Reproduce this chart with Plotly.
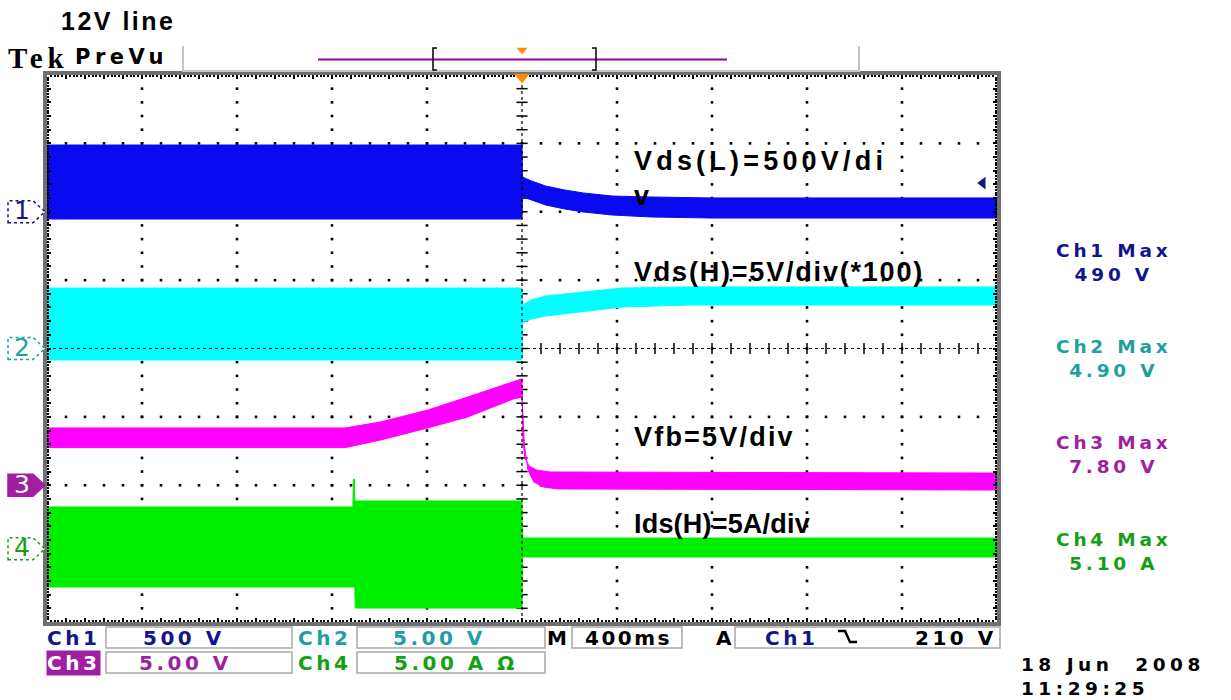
import plotly.graph_objects as go

# ---------------------------------------------------------------- settings
TIME_DIV_MS = 400          # horizontal scale
TRIG_TIME_MS = 0           # trigger position (screen centre)
TRIG_LEVEL_V = 210         # Ch1 falling-edge trigger level
N_XDIV, N_YDIV = 10, 8

CH_NAMES = ["Ch1", "Ch2", "Ch3", "Ch4"]
CH_SCALE = [500, 5, 5, 5]                 # units / division
CH_OFFSET_DIV = [2.0, 0.0, -2.0, -2.93]   # ground reference, divisions from centre
CH_SETTING_TXT = ["500 V", "5.00 V", "5.00 V", "5.00 A Ω"]
CH_MAX_TXT = ["490 V", "4.90 V", "7.80 V", "5.10 A"]
CH_NOTE = ["Vds(L)=500V/di<br>v", "Vds(H)=5V/div(*100)", "Vfb=5V/div", "Ids(H)=5A/div"]
CH_TRACE_COLOR = ["#0a0af0", "#00ffff", "#ff00ff", "#00ee00"]
CH_TEXT_COLOR = ["#14148c", "#1ea0a0", "#a01ea0", "#14a014"]

# ---------------------------------------------------------------- envelopes
# Ch1 Vds(L) [V]
CH1_UP_T = [-2000, 0, 2, 40, 100, 180, 260, 380, 540, 800, 2000]
CH1_UP = [488, 488, 254, 225, 188, 159, 137, 115, 108, 101, 101]
CH1_LO_T = [-2000, 0, 2, 40, 100, 180, 260, 380, 540, 800, 2000]
CH1_LO = [-53, -53, 108, 86, 49, 20, -2, -24, -38, -46, -46]

# Ch2 Vds(H) [V]
CH2_UP_T = [-2000, 0, 2, 40, 100, 250, 420, 700, 2000]
CH2_UP = [4.42, 4.42, 3.18, 3.55, 3.84, 4.13, 4.42, 4.50, 4.50]
CH2_LO_T = [-2000, 0, 2, 40, 100, 250, 420, 700, 2000]
CH2_LO = [-0.84, -0.84, 1.86, 2.16, 2.38, 2.67, 3.03, 3.18, 3.18]

# Ch3 Vfb [V]
CH3_UP_T = [-2000, -745, -595, -397, -229, -36, 0, 4, 12, 30, 60, 120, 2000]
CH3_UP = [4.19, 4.19, 4.63, 5.50, 6.45, 7.55, 7.78, 3.31, 1.99, 1.41, 1.12, 0.97, 0.89]
CH3_LO_T = [-2000, -745, -595, -397, -229, -36, 0, 10, 25, 50, 90, 150, 2000]
CH3_LO = [2.75, 2.75, 3.31, 4.19, 4.99, 6.31, 6.45, 2.94, 1.12, 0.24, -0.13, -0.27, -0.35]

# Ch4 Ids(H) [A]
CH4_UP_T = [-2000, -712, -710, -706, -704, 0, 2, 2000]
CH4_UP = [3.06, 3.06, 5.10, 5.10, 3.50, 3.50, 0.79, 0.79]
CH4_LO_T = [-2000, -704, -702, 0, 2, 2000]
CH4_LO = [-2.79, -2.79, -4.33, -4.33, -0.60, -0.60]

ENVELOPES = [
    (CH1_UP_T, CH1_UP, CH1_LO_T, CH1_LO),
    (CH2_UP_T, CH2_UP, CH2_LO_T, CH2_LO),
    (CH3_UP_T, CH3_UP, CH3_LO_T, CH3_LO),
    (CH4_UP_T, CH4_UP, CH4_LO_T, CH4_LO),
]

# ---------------------------------------------------------------- geometry
W, H = 1231, 700
L, R, T, B = 47, 234, 75, 78
PW, PH = W - L - R, H - T - B
X_HALF = TIME_DIV_MS * N_XDIV / 2


def xp(px):
    return (px - L) / PW


def yp(py):
    return (T + PH - py) / PH


TEK = "DejaVu Sans"
ARIAL = "Liberation Sans, Arial"


def spaced(text, ls):
    return f'<span style="letter-spacing:{ls}px">{text}</span>'


fig = go.Figure()

# waveform bands
for i, (tu, vu, tl, vl) in enumerate(ENVELOPES):
    fig.add_trace(go.Scatter(
        x=tu + tl[::-1], y=vu + vl[::-1], mode="lines", fill="toself",
        fillcolor=CH_TRACE_COLOR[i], line=dict(color=CH_TRACE_COLOR[i], width=1),
        yaxis=f"y{i + 2}", hoverinfo="skip", showlegend=False,
    ))

# graticule dots on the major lines
gx, gy = [], []
n_minor_y = N_YDIV * 5
n_minor_x = N_XDIV * 5
for k in range(1, N_XDIV):
    xv = -X_HALF + k * TIME_DIV_MS
    if xv == TRIG_TIME_MS:
        continue
    for j in range(1, n_minor_y):
        gx.append(xv)
        gy.append(-N_YDIV / 2 + j * 0.2)
for k in range(1, N_YDIV):
    yv = -N_YDIV / 2 + k
    if abs(yv) < 1e-9:
        continue
    for j in range(1, n_minor_x):
        gx.append(-X_HALF + j * TIME_DIV_MS / 5)
        gy.append(yv)
fig.add_trace(go.Scatter(x=gx, y=gy, mode="markers",
                         marker=dict(symbol="square", size=2.6, color="black", line=dict(width=0)),
                         hoverinfo="skip", showlegend=False))

# centre cross-hair with minor ticks
cy = [-N_YDIV / 2 + j * 0.2 for j in range(1, n_minor_y)]
fig.add_trace(go.Scatter(x=[0] * len(cy), y=cy, mode="markers",
                         marker=dict(symbol="line-ew", size=8, line=dict(width=1.5, color="black")),
                         hoverinfo="skip", showlegend=False))
cx = [-X_HALF + j * TIME_DIV_MS / 5 for j in range(1, n_minor_x)]
fig.add_trace(go.Scatter(x=cx, y=[0] * len(cx), mode="markers",
                         marker=dict(symbol="line-ns", size=8, line=dict(width=1.5, color="black")),
                         hoverinfo="skip", showlegend=False))

# Ch1 trigger-level arrow at the right edge
fig.add_trace(go.Scatter(x=[X_HALF - 60], y=[TRIG_LEVEL_V], mode="markers",
                         marker=dict(symbol="triangle-left", size=11, color=CH_TEXT_COLOR[0]),
                         yaxis="y2", hoverinfo="skip", showlegend=False))

shapes = []
annotations = []

# centre lines
shapes.append(dict(type="line", xref="x", yref="paper", x0=0, x1=0, y0=0, y1=1,
                   line=dict(color="black", width=1.2, dash="dot")))
shapes.append(dict(type="line", xref="paper", yref="y", x0=0, x1=1, y0=0, y1=0,
                   line=dict(color="black", width=1.2, dash="dot")))

# channel ground markers on the left
for i in range(4):
    yc = (CH_OFFSET_DIV[i] + N_YDIV / 2) / N_YDIV
    filled = i == 2
    shapes.append(dict(
        type="path", xref="paper", yref="paper",
        xsizemode="pixel", xanchor=0, ysizemode="pixel", yanchor=yc,
        path="M-39,-11 H-14 L-2,0 L-14,11 H-39 Z",
        fillcolor=CH_TEXT_COLOR[i] if filled else "white",
        line=dict(color=CH_TEXT_COLOR[i], width=1.5, dash="solid" if filled else "dot"),
        layer="above",
    ))
    annotations.append(dict(
        text=str(i + 1), xref="paper", yref="paper", x=0, y=yc, xshift=-25, yshift=1,
        showarrow=False, xanchor="center", yanchor="middle",
        font=dict(family=TEK, size=25, color="white" if filled else CH_TEXT_COLOR[i]),
    ))

# channel notes inside the graticule
note_y = [178, 272, 437, 524]
note_ls = [4.2, 1.8, 2.2, 0.2]
for i in range(4):
    annotations.append(dict(
        text="<b>" + spaced(CH_NOTE[i], note_ls[i]) + "</b>", xref="paper", yref="paper",
        x=xp(632), y=yp(note_y[i]), xanchor="left", yanchor="middle", align="left",
        showarrow=False, font=dict(family=ARIAL, size=27, color="black"),
    ))

# channel max readouts on the right (two-line blocks)
max_y = [262, 358, 455, 551]
for i in range(4):
    txt = spaced(f"{CH_NAMES[i]} Max", 3.8) + "<br>" + spaced(CH_MAX_TXT[i], 3.8)
    annotations.append(dict(
        text=txt, xref="paper", yref="paper", align="center",
        x=xp(1114), y=yp(max_y[i]), xanchor="center", yanchor="middle",
        showarrow=False, font=dict(family=TEK, size=18.5, color=CH_TEXT_COLOR[i], weight="bold"),
    ))

# title and header
annotations.append(dict(text="<b>" + spaced("12V line", 2.5) + "</b>", xref="paper", yref="paper",
                        x=xp(59), y=yp(21), xanchor="left", yanchor="middle", showarrow=False,
                        font=dict(family=ARIAL, size=25, color="black")))
annotations.append(dict(text="<b>" + spaced("Tek", 5) + "</b>", xref="paper", yref="paper",
                        x=xp(6), y=yp(58), xanchor="left", yanchor="middle", showarrow=False,
                        font=dict(family="Liberation Serif, Times New Roman", size=29, color="black")))
annotations.append(dict(text=spaced("PreVu", 4.5), xref="paper", yref="paper",
                        x=xp(73), y=yp(57), xanchor="left", yanchor="middle", showarrow=False,
                        font=dict(family=TEK, size=21, color="black", weight="bold")))

grey = "#c4c4c4"
for x0, y0, x1, y1 in ((183, 46, 183, 72), (183, 71, 859, 71), (859, 46, 859, 72)):
    shapes.append(dict(type="line", xref="paper", yref="paper", x0=xp(x0), y0=yp(y0),
                       x1=xp(x1), y1=yp(y1), line=dict(color=grey, width=2)))
# record bar with view brackets
shapes.append(dict(type="line", xref="paper", yref="paper", x0=xp(318), x1=xp(727),
                   y0=yp(59.5), y1=yp(59.5), line=dict(color="#990099", width=2)))


def ppath(points):
    return "M" + " L".join(f"{xp(a):.5f},{yp(b):.5f}" for a, b in points)


shapes.append(dict(type="path", xref="paper", yref="paper",
                   path=ppath([(437, 48), (433, 48), (433, 70), (437, 70)]),
                   line=dict(color="black", width=1.5)))
shapes.append(dict(type="path", xref="paper", yref="paper",
                   path=ppath([(592, 48), (596, 48), (596, 70), (592, 70)]),
                   line=dict(color="black", width=1.5)))

# trigger position markers (orange)
trig_px = L + (TRIG_TIME_MS + X_HALF) / (2 * X_HALF) * PW
shapes.append(dict(type="path", xref="paper", yref="paper",
                   path=ppath([(trig_px - 5, 48), (trig_px + 5, 48), (trig_px, 54)]) + " Z",
                   fillcolor="#ff8a00", line=dict(color="#ff8a00", width=0.5)))
shapes.append(dict(type="path", xref="paper", yref="paper",
                   path=ppath([(trig_px - 7.5, 74), (trig_px + 7.5, 74), (trig_px, 83)]) + " Z",
                   fillcolor="#ff8a00", line=dict(color="#ff8a00", width=0.5)))

# status bar boxes
box_col = "#a8a8a8"
for x0, y0, x1, y1 in ((106, 627, 292, 648), (357, 627, 545, 648), (572, 627, 682, 648),
                       (735, 627, 1000, 648), (106, 652, 292, 673), (357, 652, 545, 673)):
    shapes.append(dict(type="rect", xref="paper", yref="paper", x0=xp(x0), x1=xp(x1),
                       y0=yp(y0), y1=yp(y1), line=dict(color=box_col, width=1.5)))

# falling-slope glyph
shapes.append(dict(type="path", xref="paper", yref="paper",
                   path=ppath([(838, 631), (845, 631), (850, 642), (857, 642)]),
                   line=dict(color="black", width=2.5)))


def status(text, xc, yc, color, anchor="center", bg=None, ls=3.5):
    a = dict(text=spaced(text, ls), xref="paper", yref="paper", x=xp(xc), y=yp(yc),
             xanchor=anchor, yanchor="middle", showarrow=False,
             font=dict(family=TEK, size=20, color=color, weight="bold"))
    if bg:
        a.update(bgcolor=bg, borderpad=0)
    annotations.append(a)


row1, row2 = 637.5, 662.5
status(CH_NAMES[0], 73, row1, CH_TEXT_COLOR[0])
status(CH_SETTING_TXT[0], 184, row1, CH_TEXT_COLOR[0])
status(CH_NAMES[1], 324, row1, CH_TEXT_COLOR[1])
status(CH_SETTING_TXT[1], 439, row1, CH_TEXT_COLOR[1])
status("M", 557, row1, "black", ls=1)
status(f"{TIME_DIV_MS}ms", 628, row1, "black", ls=2.5)
status("A", 724, row1, "black", ls=1)
status(CH_NAMES[0], 791, row1, CH_TEXT_COLOR[0])
status(f"{TRIG_LEVEL_V} V", 999, row1, "black", anchor="right")
status(CH_NAMES[2], 73, row2, "white", bg=CH_TEXT_COLOR[2])
status(CH_SETTING_TXT[2], 185, row2, CH_TEXT_COLOR[2])
status(CH_NAMES[3], 324, row2, CH_TEXT_COLOR[3])
status(CH_SETTING_TXT[3], 456, row2, CH_TEXT_COLOR[3])
annotations.append(dict(
    text=spaced("18 Jun\u00a0\u00a02008", 4.5) + "<br>" + spaced("11:29:25", 4.5),
    xref="paper", yref="paper", x=xp(1019), y=yp(676), xanchor="left", yanchor="middle",
    align="left", showarrow=False, font=dict(family=TEK, size=18.5, color="black", weight="bold"),
))

# ---------------------------------------------------------------- axes
axis_common = dict(showgrid=False, zeroline=False, showticklabels=False,
                   ticks="inside", ticklen=4, tickwidth=1.5, tickcolor="black",
                   showline=True, linewidth=4, linecolor="#707070", mirror="ticks")
layout = dict(
    width=W, height=H, margin=dict(l=L, r=R, t=T, b=B, pad=0),
    paper_bgcolor="white", plot_bgcolor="white", showlegend=False,
    xaxis=dict(range=[-X_HALF, X_HALF], tick0=-X_HALF, dtick=TIME_DIV_MS / 5,
               minor=dict(ticks="inside", dtick=TIME_DIV_MS / 25, ticklen=2, tickcolor="black"),
               **axis_common),
    yaxis=dict(range=[-N_YDIV / 2, N_YDIV / 2], tick0=-N_YDIV / 2, dtick=0.2,
               minor=dict(ticks="inside", dtick=0.04, ticklen=2, tickcolor="black"),
               **axis_common),
    shapes=shapes, annotations=annotations,
)
for i in range(4):
    lo = (-N_YDIV / 2 - CH_OFFSET_DIV[i]) * CH_SCALE[i]
    hi = (N_YDIV / 2 - CH_OFFSET_DIV[i]) * CH_SCALE[i]
    layout[f"yaxis{i + 2}"] = dict(overlaying="y", range=[lo, hi], visible=False)

fig.update_layout(**layout)
fig.write_html("out.html")
